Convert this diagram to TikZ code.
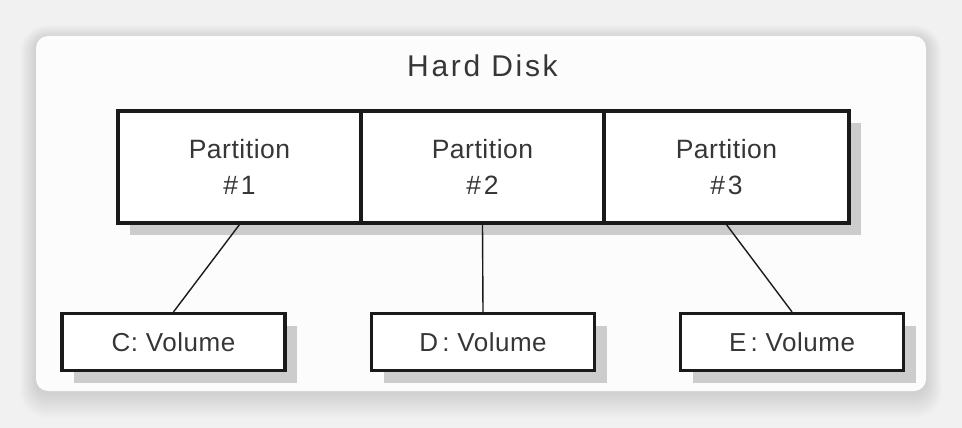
\documentclass[tikz,border=0pt]{standalone}
\usepackage{fontspec}
\setmainfont{Liberation Sans}
\usetikzlibrary{shadows}
\definecolor{bgc}{HTML}{F1F1F1}
\definecolor{cardc}{HTML}{FCFCFC}
\definecolor{txt}{HTML}{363636}
\definecolor{ln}{HTML}{1A1A1A}
\definecolor{shd}{HTML}{CCCCCC}
\begin{document}
\begin{tikzpicture}[x=1pt,y=-1pt,
  shadowed/.style={drop shadow={shadow xshift=12pt, shadow yshift=-12pt, fill=shd, opacity=1}},
  part/.style={draw=ln, line width=3.2pt, fill=white, minimum width=243pt,
    minimum height=112pt, inner sep=0pt, align=center, text=txt,
    font=\fontsize{26.5}{36}\selectfont\addfontfeatures{LetterSpace=2}, shadowed},
  vol/.style={draw=ln, line width=3.2pt, fill=white, minimum width=223pt,
    minimum height=57pt, inner sep=0pt, text=txt,
    font=\fontsize{26}{30}\selectfont\addfontfeatures{LetterSpace=2}, shadowed},
  link/.style={draw=ln, line width=1.4pt},
  title/.style={text=txt, inner sep=0pt, anchor=base,
    font=\fontsize{30}{36}\selectfont\addfontfeatures{LetterSpace=9}}]
\useasboundingbox (0,0) rectangle (962,428);
\fill[bgc] (0,0) rectangle (962,428);
\foreach \i in {1,...,16} {
  \fill[black, opacity=0.009, rounded corners={12pt+\i pt}]
    (36-\i, 38-0.8*\i) rectangle (926+\i, 393+1.6*\i);
}
\fill[cardc, rounded corners=12pt] (36,36) rectangle (926,391);

\node[title] (hd) at (482.5,77) {Hard Disk};

\node[part] (p1) at (239.5,167) {Partition\\\#\kern3pt 1};
\node[part] (p2) at (482.5,167) {Partition\\\#\kern3pt 2};
\node[part, minimum width=245pt] (p3) at (726.5,167) {Partition\\\#\kern3pt 3};

\node[vol] (c) at (173.5,342) {C: Volume};
\node[vol] (d) at (483,342) {D\,: Volume};
\node[vol] (e) at (792,342) {E\,: Volume};

\draw[link] (p1.south) -- (c.north);
\draw[link] (p2.south) -- (d.north);
\draw[link] (p3.south) -- (e.north);
\end{tikzpicture}
\end{document}
